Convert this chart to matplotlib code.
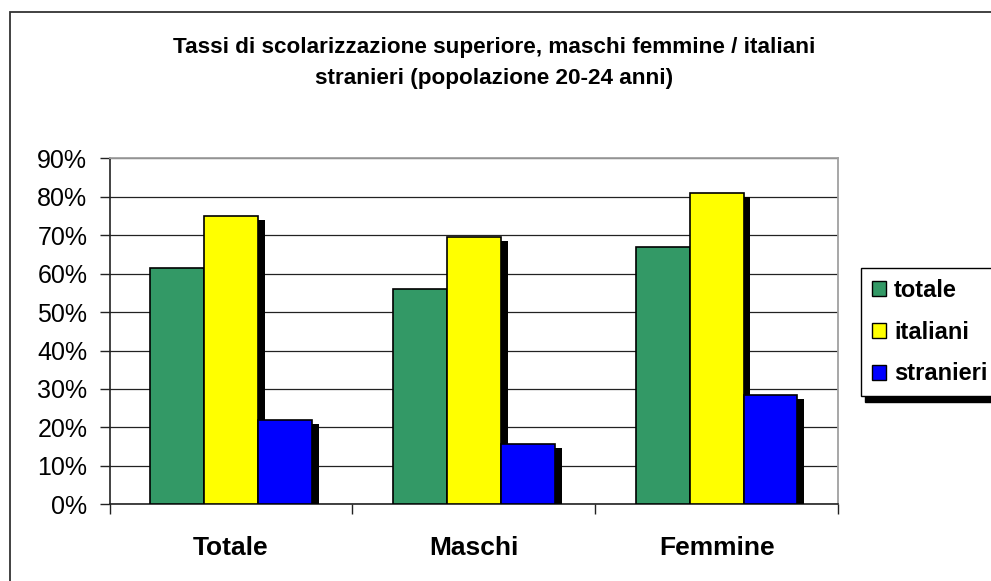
#!/usr/bin/env python3
"""Tassi di scolarizzazione superiore, popolazione 20-24 anni."""

import numpy as np
import matplotlib as mpl
mpl.use('Agg')
import matplotlib.pyplot as plt
import matplotlib.patheffects as pe
from matplotlib.patches import Rectangle

# data
categories = ['Totale', 'Maschi', 'Femmine']
series_names = ['totale', 'italiani', 'stranieri']
totale = [61.5, 56.0, 66.9]
italiani = [75.0, 69.5, 81.0]
stranieri = [21.9, 15.6, 28.4]
yticks = [0, 10, 20, 30, 40, 50, 60, 70, 80, 90]
title = ('Tassi di scolarizzazione superiore, maschi femmine / italiani\n'
         'stranieri (popolazione 20-24 anni)')

colors = ['#339966', '#FFFF00', '#0000FF']

plt.rcParams['font.family'] = ['Liberation Sans', 'DejaVu Sans']

fig = plt.figure(figsize=(9.91, 5.81), dpi=100)
ax = fig.add_axes([109.5 / 991, 1 - 504.3 / 581,
                   (838 - 109.5) / 991, (504.3 - 158.3) / 581])

# outer chart border
fig.patches.append(Rectangle((10 / 991, -0.2), 1.2, 1.2 - 12 / 581,
                             transform=fig.transFigure, fill=False,
                             edgecolor='#333333', linewidth=1.3))

x = np.arange(len(categories))
width = 0.222
shadow = [pe.SimplePatchShadow(offset=(5, -3), shadow_rgbFace='black',
                               alpha=1.0), pe.Normal()]
for i, (vals, name) in enumerate(zip([totale, italiani, stranieri],
                                     series_names)):
    ax.bar(x + (i - 1) * width, vals, width, color=colors[i],
           edgecolor='black', linewidth=1.2, label=name,
           path_effects=shadow, zorder=3)

ax.set_xlim(-0.5, 2.5)
ax.set_ylim(0, 90)
ax.set_yticks(yticks)
ax.set_yticklabels(['%d%%' % v for v in yticks], fontsize=18)
ax.yaxis.grid(True, color='#222222', linewidth=0.9, zorder=0)
ax.set_axisbelow(True)

ax.set_xticks([-0.5, 0.5, 1.5, 2.5])
ax.set_xticklabels([])
ax.set_xticks(x, minor=True)
ax.set_xticklabels(categories, minor=True, fontsize=19, fontweight='bold')
ax.tick_params(axis='x', which='major', direction='out', length=7,
               width=1, color='#222222')
ax.tick_params(axis='x', which='minor', length=0, pad=23)
ax.tick_params(axis='y', direction='out', length=7, width=1, pad=9,
               color='#222222')

for s in ['top', 'right']:
    ax.spines[s].set_color('#a0a0a0')
    ax.spines[s].set_linewidth(1.3)
for s in ['left', 'bottom']:
    ax.spines[s].set_color('#222222')
    ax.spines[s].set_linewidth(1.2)

fig.text(494 / 991, 1 - 63 / 581, title, ha='center', va='center',
         fontsize=16.2, fontweight='bold', linespacing=1.6)

leg = ax.legend(loc='upper left', bbox_to_anchor=(861 / 991, 1 - 268 / 581),
                bbox_transform=fig.transFigure, borderaxespad=0,
                prop={'size': 17, 'weight': 'bold'}, handlelength=0.6,
                handleheight=0.6, handletextpad=0.35, borderpad=0.45,
                labelspacing=0.8, fancybox=False, framealpha=1,
                edgecolor='black',
                shadow={'ox': 3, 'oy': -4, 'facecolor': 'black',
                        'edgecolor': 'black', 'alpha': 1})
leg.get_frame().set_linewidth(1.0)
for h in leg.legend_handles:
    h.set_path_effects([])
    h.set_linewidth(1.0)

fig.savefig('out.png', dpi=100)
